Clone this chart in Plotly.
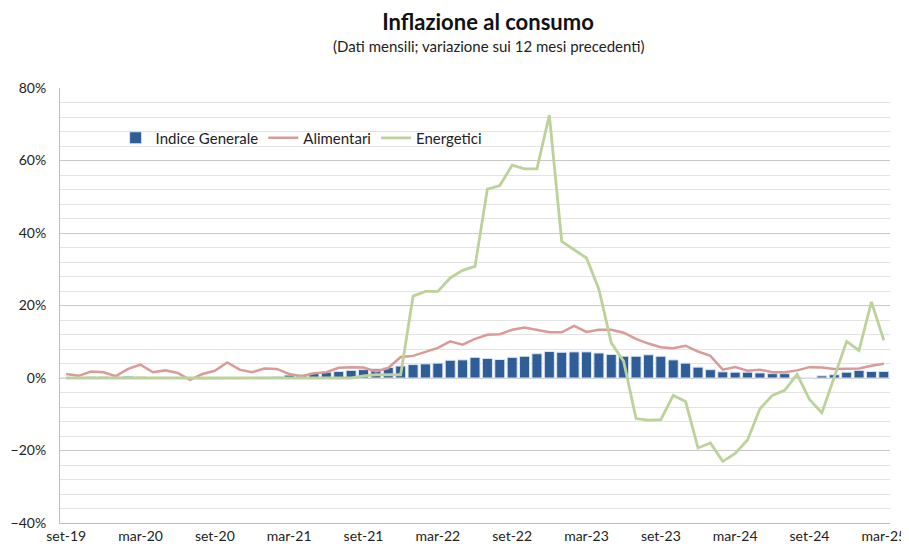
import plotly.graph_objects as go

# Mesi da set-19 a mar-25
MESI = ["gen", "feb", "mar", "apr", "mag", "giu", "lug", "ago", "set", "ott", "nov", "dic"]
mesi_labels = []
for anno in range(2019, 2026):
    for m, nome in enumerate(MESI):
        if (anno == 2019 and m < 8) or (anno == 2025 and m > 2):
            continue
        mesi_labels.append(f"{nome}-{str(anno)[2:]}")

tick_labels = ["set-19", "mar-20", "set-20", "mar-21", "set-21", "mar-22",
               "set-22", "mar-23", "set-23", "mar-24", "set-24", "mar-25"]

# variazioni % sui 12 mesi precedenti
indice_generale = [
    0.1, 0.2, 0.4, 0.4, 0.3, 0.5, 0.4, 0.0, -0.1, -0.1, -0.2, -0.3,
    -0.3, -0.2, -0.2, -0.1, 0.2, 0.4, 0.8, 0.9, 1.4, 1.6, 1.8, 2.1,
    2.3, 2.5, 2.9, 3.3, 3.7, 3.9, 4.1, 4.9, 5.0, 5.7, 5.4, 5.1,
    5.7, 6.0, 6.7, 7.3, 7.1, 7.2, 7.2, 6.9, 6.5, 6.0, 6.0, 6.4,
    6.0, 5.0, 4.1, 3.0, 2.3, 1.7, 1.6, 1.6, 1.4, 1.2, 1.2, 0.2,
    0.0, 0.6, 0.9, 1.6, 2.1, 1.8, 1.8,
]
alimentari = [
    1.1, 0.6, 1.8, 1.6, 0.5, 2.5, 3.7, 1.6, 2.1, 1.4, -0.5, 1.1,
    2.0, 4.3, 2.3, 1.6, 2.6, 2.5, 1.1, 0.5, 1.3, 1.6, 2.8, 3.0,
    2.9, 1.8, 2.75, 5.8, 6.1, 7.3, 8.3, 10.1, 9.2, 10.8, 11.9, 12.1,
    13.3, 13.9, 13.3, 12.6, 12.6, 14.4, 12.7, 13.3, 13.3, 12.5, 10.8, 9.5,
    8.5, 8.2, 8.9, 7.3, 6.1, 2.3, 3.0, 2.0, 2.3, 1.6, 1.6, 2.1,
    3.0, 2.9, 2.5, 2.5, 2.6, 3.4, 3.9,
]
energetici = [
    0.0, 0.0, 0.0, 0.0, 0.0, 0.0, 0.0, 0.0, 0.0, 0.0, 0.0, 0.0,
    0.0, 0.0, 0.0, 0.0, 0.0, 0.0, 0.0, 0.0, 0.0, 0.0, 0.0, 0.0,
    0.6, 0.9, 0.9, 0.9, 22.6, 23.9, 23.9, 27.6, 29.7, 30.8, 52.1, 53.1,
    58.7, 57.7, 57.7, 72.5, 37.7, 35.4, 33.1, 24.5, 9.7, 4.6, -11.2, -11.6,
    -11.5, -4.8, -6.5, -19.3, -17.9, -23.0, -20.8, -17.1, -8.5, -4.8, -3.4, 1.0,
    -5.9, -9.6, 0.0, 10.1, 7.6, 21.0, 10.4,
]

FONT = "Lato, 'Open Sans', sans-serif"

# la pagina html ha un margine di 8px attorno al grafico
W, H = 901, 539

fig = go.Figure()

fig.add_trace(go.Bar(
    x=mesi_labels, y=indice_generale, name="Indice Generale",
    marker=dict(color="#2f5d98", line=dict(color="#dce5f1", width=1)),
))
fig.add_trace(go.Scatter(
    x=mesi_labels, y=alimentari, name="Alimentari", mode="lines",
    line=dict(color="#d99a98", width=2.5),
))
fig.add_trace(go.Scatter(
    x=mesi_labels, y=energetici, name="Energetici", mode="lines",
    line=dict(color="#bcd29a", width=2.8),
))

fig.add_annotation(
    x=0.516, y=1.097, xref="paper", yref="paper", yanchor="middle",
    text="(Dati mensili; variazione sui 12 mesi precedenti)",
    showarrow=False, font=dict(family=FONT, size=15, color="#222222"),
)

fig.update_layout(
    width=W, height=H,
    title=dict(
        text="<b>Inflazione al consumo</b>",
        x=480 / W, xanchor="center", y=1 - 14 / H, yanchor="middle",
        font=dict(family=FONT, size=22, color="#111111"),
    ),
    font=dict(family=FONT, size=14, color="#333333"),
    plot_bgcolor="white", paper_bgcolor="white",
    margin=dict(l=52, r=19, t=80, b=24),
    bargap=0.19,
    showlegend=True,
    legend=dict(
        orientation="h", x=0.067, y=0.885, xanchor="left", yanchor="middle",
        bgcolor="rgba(0,0,0,0)", font=dict(family=FONT, size=15, color="#222222"),
    ),
    xaxis=dict(
        type="category", tickvals=tick_labels, ticktext=tick_labels,
        showgrid=False, zeroline=False, showline=True, linecolor="#bfbfbf",
        ticks="", automargin=False, tickfont=dict(size=14, color="#222222"),
    ),
    yaxis=dict(
        range=[-40, 80], dtick=20, ticksuffix="%",
        showgrid=True, gridcolor="#c8c8c8", gridwidth=1,
        minor=dict(dtick=4, showgrid=True, gridcolor="#e3e3e3", gridwidth=1),
        zeroline=False, showline=True, linecolor="#bfbfbf",
        ticks="", ticklabelstandoff=10, automargin=False,
        tickfont=dict(size=14, color="#222222"),
    ),
)

fig.write_html("out.html")
